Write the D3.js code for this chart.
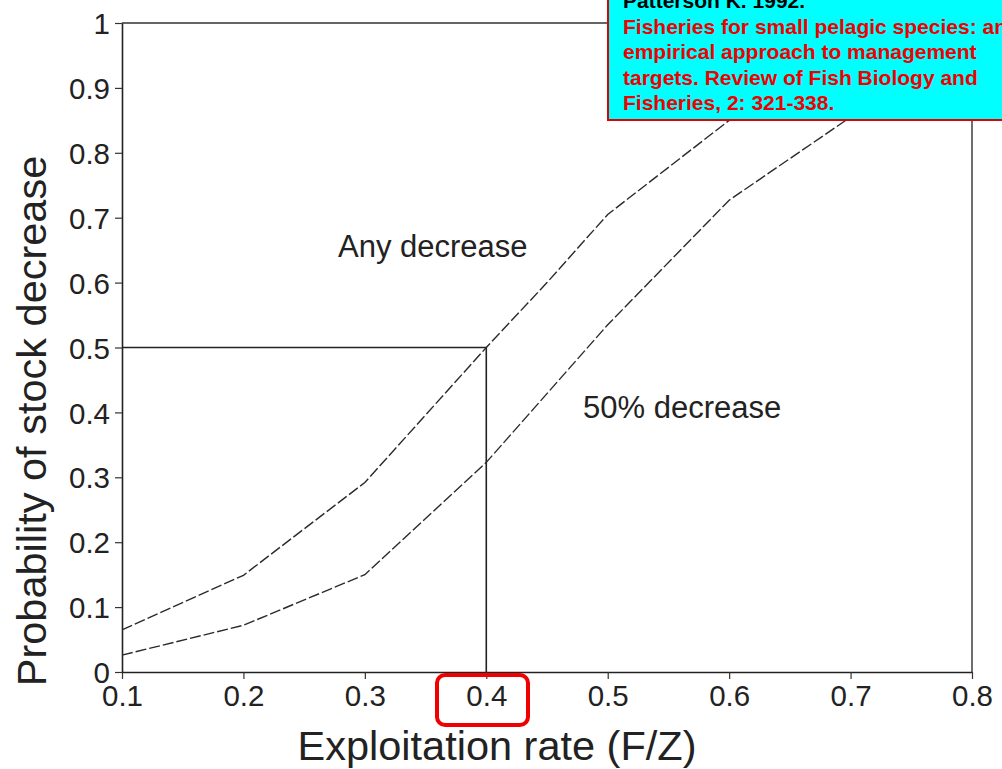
<!DOCTYPE html>
<html><head><meta charset="utf-8">
<script src="https://cdn.jsdelivr.net/npm/d3@7"></script>
<style>
html,body{margin:0;padding:0;background:#fff;overflow:hidden;}
svg{display:block;}
</style></head>
<body>
<script>
// ---- data ----
const xTicks = [0.1,0.2,0.3,0.4,0.5,0.6,0.7,0.8];
const xTickLabels = ["0.1","0.2","0.3","0.4","0.5","0.6","0.7","0.8"];
const yTicks = [0,0.1,0.2,0.3,0.4,0.5,0.6,0.7,0.8,0.9,1];
const yTickLabels = ["0","0.1","0.2","0.3","0.4","0.5","0.6","0.7","0.8","0.9","1"];
const anyX = [0.1,0.2,0.3,0.4,0.45,0.5,0.6,0.7,0.8];
const anyY = [0.065,0.149,0.292,0.5,0.6,0.705,0.85,0.95,0.99];
const halfX = [0.1,0.2,0.3,0.4,0.5,0.6,0.7,0.8];
const halfY = [0.026,0.072,0.15,0.323,0.535,0.727,0.855,0.95];
const refX = [0.1,0.4,0.4];
const refY = [0.5,0.5,0];
const seriesLabels = ["Any decrease","50% decrease"];
const xTitle = "Exploitation rate (F/Z)";
const yTitle = "Probability of stock decrease";
const noteTitle = "Patterson K. 1992.";
const noteLines = ["Fisheries for small pelagic species: an","empirical approach to management","targets. Review of Fish Biology and","Fisheries, 2: 321-338."];

const W = 1002, H = 769;
const svg = d3.select("body").append("svg").attr("width",W).attr("height",H);
const x = d3.scaleLinear().domain([0.1,0.8]).range([122,972]);
const y = d3.scaleLinear().domain([0,1]).range([672,23]);
const ink = "#222";
const font = "'Liberation Sans', Arial, Helvetica, sans-serif";

// frame (top and right)
svg.append("path")
  .attr("d", `M${x(0.1)},${y(1)}H${x(0.8)}V${y(0)}`)
  .attr("fill","none").attr("stroke","#333").attr("stroke-width",1.4);

// axes
const xAxis = svg.append("g").attr("transform",`translate(0,${y(0)})`)
  .call(d3.axisBottom(x).tickValues(xTicks).tickSize(7).tickSizeOuter(0)
    .tickFormat((d,i)=>xTickLabels[i]));
const yAxis = svg.append("g").attr("transform",`translate(${x(0.1)},0)`)
  .call(d3.axisLeft(y).tickValues(yTicks).tickSize(7).tickSizeOuter(0)
    .tickFormat((d,i)=>yTickLabels[i]));
[xAxis,yAxis].forEach(g=>{
  g.select(".domain").attr("stroke","#222").attr("stroke-width",1.6);
  g.selectAll(".tick line").attr("stroke","#333").attr("stroke-width",1.2);
  g.selectAll("text").attr("fill",ink).attr("font-family",font).attr("font-size",29.5);
});
xAxis.selectAll("text").attr("y",13).attr("dy","0.71em");
yAxis.selectAll("text").attr("x",-12).attr("dy","0.36em");

// reference lines
const line = d3.line().x(d=>x(d[0])).y(d=>y(d[1]));
svg.append("path").datum(refX.map((v,i)=>[v,refY[i]]))
  .attr("d",line).attr("fill","none").attr("stroke","#222").attr("stroke-width",1.6);

// series
svg.append("path").datum(anyX.map((v,i)=>[v,anyY[i]]))
  .attr("d",line).attr("fill","none").attr("stroke","#2a2a2a").attr("stroke-width",1.4)
  .attr("stroke-dasharray","11,3");
svg.append("path").datum(halfX.map((v,i)=>[v,halfY[i]]))
  .attr("d",line).attr("fill","none").attr("stroke","#2a2a2a").attr("stroke-width",1.4)
  .attr("stroke-dasharray","11,3");

// series labels
svg.append("text").attr("x",338).attr("y",257).text(seriesLabels[0])
  .attr("font-family",font).attr("font-size",31).attr("fill",ink);
svg.append("text").attr("x",583).attr("y",418).text(seriesLabels[1])
  .attr("font-family",font).attr("font-size",31).attr("fill",ink);

// axis titles
svg.append("text").attr("x",497).attr("y",760).attr("text-anchor","middle")
  .text(xTitle).attr("font-family",font).attr("font-size",41.5).attr("fill",ink);
svg.append("text").attr("transform","translate(46,421) rotate(-90)").attr("text-anchor","middle")
  .text(yTitle).attr("font-family",font).attr("font-size",41.5).attr("fill",ink);

// red highlight around 0.4 tick label
svg.append("rect").attr("x",437).attr("y",675).attr("width",91).attr("height",50)
  .attr("rx",8).attr("ry",8).attr("fill","none").attr("stroke","#f00000").attr("stroke-width",4);

// citation note box
svg.append("rect").attr("x",608).attr("y",-10).attr("width",420).attr("height",130)
  .attr("fill","#00ffff").attr("stroke","#e00000").attr("stroke-width",2);
svg.append("text").attr("x",623).attr("y",8).text(noteTitle)
  .attr("font-family",font).attr("font-weight","bold").attr("font-size",21).attr("fill","#000");
noteLines.forEach((t,i)=>{
  svg.append("text").attr("x",623).attr("y",34+25.4*i).text(t)
    .attr("font-family",font).attr("font-weight","bold").attr("font-size",21).attr("fill","#f00000");
});
</script>
</body></html>
